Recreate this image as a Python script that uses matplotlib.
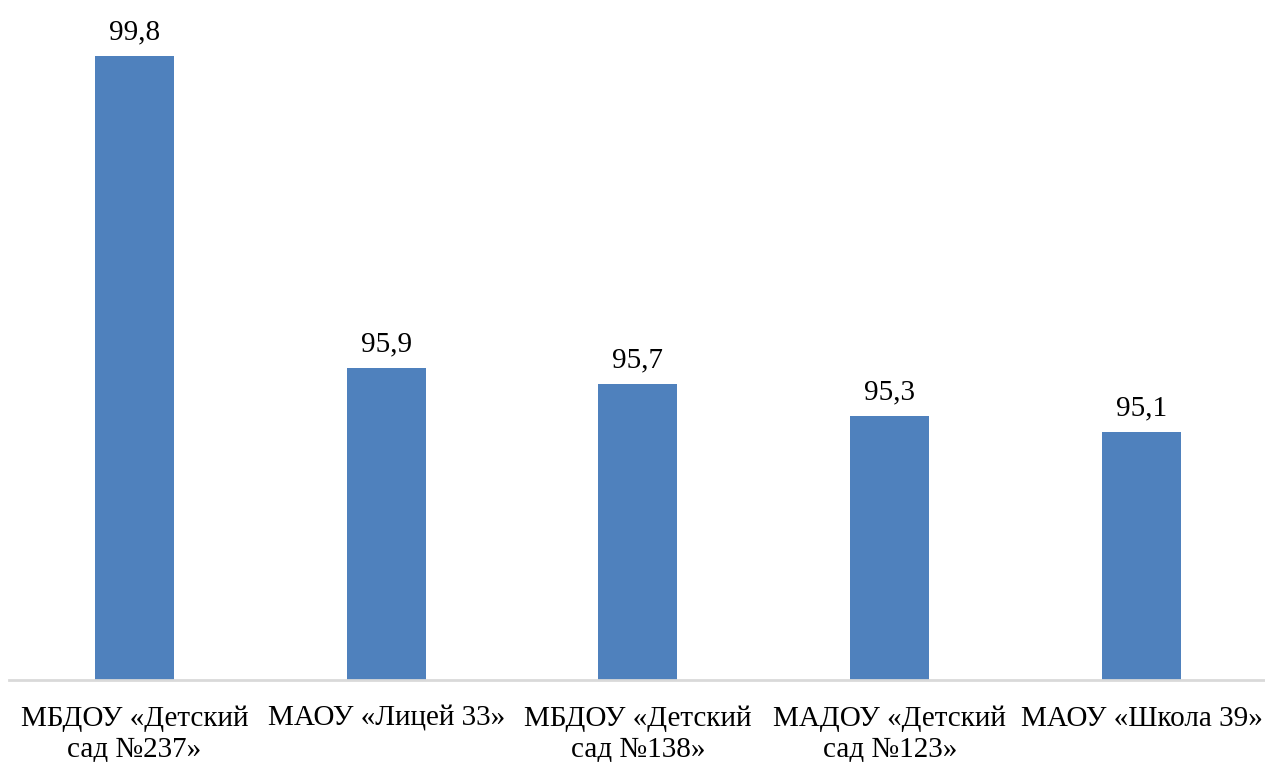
import matplotlib
matplotlib.use("Agg")
import matplotlib.pyplot as plt

categories = ["МБДОУ «Детский\nсад №237»", "МАОУ «Лицей 33»", "МБДОУ «Детский\nсад №138»",
              "МАДОУ «Детский\nсад №123»", "МАОУ «Школа 39»"]
values = [99.8, 95.9, 95.7, 95.3, 95.1]
labels = ["99,8", "95,9", "95,7", "95,3", "95,1"]

plt.rcParams['font.family'] = ['Liberation Serif', 'DejaVu Serif']

W, H = 1265, 762
fig = plt.figure(figsize=(W / 100, H / 100), dpi=100)
left = 8.6 / W
width = 1258.75 / W
bottom = (H - 679.5) / H
height = 640 / H
ax = fig.add_axes([left, bottom, width, height])

x = list(range(len(values)))
bars = ax.bar(x, values, width=0.314, color="#4F81BD", bottom=0)
ax.set_ylim(92, 100)
ax.set_xlim(-0.5, len(values) - 0.5)

for xi, v, lab in zip(x, values, labels):
    ax.annotate(lab, (xi, v), xytext=(0, 7.5), textcoords="offset points",
                ha="center", va="bottom", fontsize=21)

ax.set_xticks(x)
ax.set_xticklabels(categories, fontsize=21, linespacing=1.2)
ax.tick_params(axis='x', length=0, pad=19)
ax.set_yticks([])
for s in ["left", "right", "top"]:
    ax.spines[s].set_visible(False)
ax.spines["bottom"].set_color("#D9D9D9")
ax.spines["bottom"].set_linewidth(2)
ax.set_facecolor("white")

fig.savefig("out.png", dpi=100, facecolor="white")
